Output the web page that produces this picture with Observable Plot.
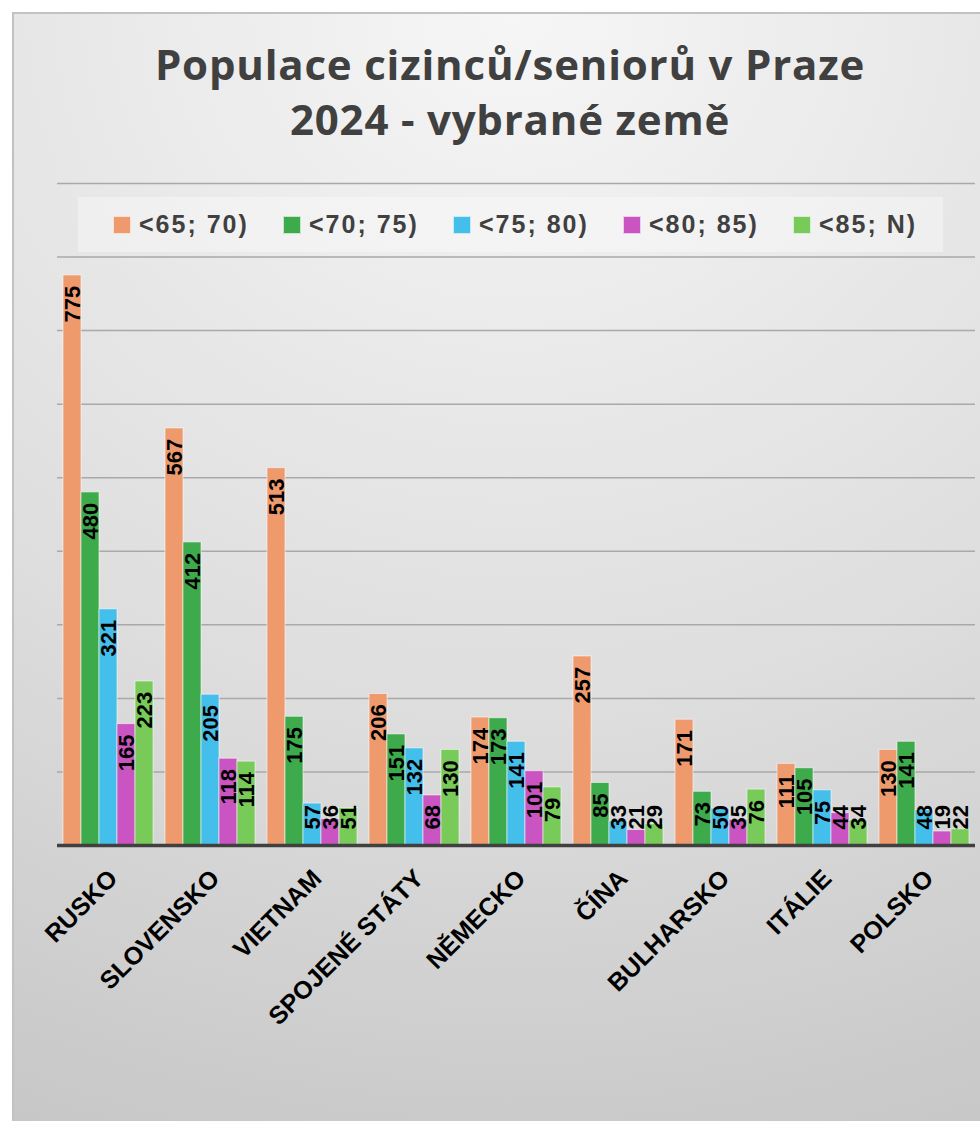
<!DOCTYPE html>
<html>
<head>
<meta charset="utf-8">
<script src="https://cdn.jsdelivr.net/npm/d3@7"></script>
<script src="https://cdn.jsdelivr.net/npm/@observablehq/plot@0.6"></script>
<style>
  html, body { margin: 0; padding: 0; background: #ffffff; }
  body { width: 980px; height: 1121px; position: relative; overflow: hidden; }
  #card {
    position: absolute; left: 12px; top: 12px; width: 1000px; height: 1140px;
    border-left: 2px solid #c2c2c2; border-top: 2px solid #c2c2c2;
    background: radial-gradient(140% 110% at 50% 0%, #f6f6f6 0%, #dedede 55%, #c4c4c4 100%);
  }
  #chart { position: absolute; left: 0; top: 0; }
  #title {
    position: absolute; left: 60px; width: 900px; top: 36px;
    text-align: center; font-family: "Open Sans", "Liberation Sans", sans-serif;
    font-weight: bold; font-size: 42px; line-height: 55px; color: #404040; letter-spacing: 0.8px;
  }
  #legend {
    position: absolute; left: 78px; top: 197px; width: 865px; height: 55px;
    background: rgba(255,255,255,0.35);
  }
  .item { position: absolute; top: 0; height: 55px; display: flex; align-items: center;
    font-family: "Liberation Sans", Arial, sans-serif; font-weight: bold; font-size: 25px;
    color: #404040; letter-spacing: 2px; white-space: nowrap; }
  .sw { width: 18px; height: 18px; margin-right: 8px; box-sizing: border-box; border: 1px solid rgba(255,255,255,0.7); }
</style>
</head>
<body>
<div id="card"></div>
<div id="chart"></div>
<div id="title">Populace cizinců/seniorů v Praze<br>2024 - vybrané země</div>
<div id="legend"></div>
<script>
const countries = ["RUSKO", "SLOVENSKO", "VIETNAM", "SPOJENÉ STÁTY", "NĚMECKO", "ČÍNA", "BULHARSKO", "ITÁLIE", "POLSKO"];
const groups = ["<65; 70)", "<70; 75)", "<75; 80)", "<80; 85)", "<85; N)"];
const v65 = [775, 567, 513, 206, 174, 257, 171, 111, 130];
const v70 = [480, 412, 175, 151, 173, 85, 73, 105, 141];
const v75 = [321, 205, 57, 132, 141, 33, 50, 75, 48];
const v80 = [165, 118, 36, 68, 101, 21, 35, 44, 19];
const v85 = [223, 114, 51, 130, 79, 29, 76, 34, 22];
const colors = ["#EE9A6D", "#3DAA4B", "#44BEEA", "#C954C2", "#78CB58"];
const gridTicks = [100, 200, 300, 400, 500, 600, 700, 800, 900];

const series = [v65, v70, v75, v80, v85];
const data = [];
countries.forEach((c, i) => {
  groups.forEach((g, j) => data.push({country: c, group: g, value: series[j][i]}));
});

// label top position (in data units): near the bar's top, but kept clear of the baseline for short bars
const labelTop = d => Math.max(d.value - 14, String(d.value).length >= 3 ? 70 : 55);

const chart = Plot.plot({
  width: 980,
  height: 1121,
  marginTop: 183,
  marginBottom: 276,
  marginLeft: 57,
  marginRight: 5,
  style: {background: "transparent", fontFamily: "'Liberation Sans', Arial, sans-serif", color: "#000"},
  fx: {domain: countries, paddingInner: 0.118, paddingOuter: 0.059, label: null, axis: null},
  x: {domain: groups, padding: 0, axis: null},
  y: {domain: [0, 900], axis: null},
  color: {domain: groups, range: colors},
  marks: [
    Plot.ruleY(gridTicks, {stroke: "#a9a9a9", strokeWidth: 1.5, insetLeft: -6, insetRight: -6}),
    Plot.barY(data, {fx: "country", x: "group", y: "value", fill: "group", stroke: "#ffffff", strokeOpacity: 0.55, strokeWidth: 1}),
    Plot.ruleY([0], {stroke: "#404040", strokeWidth: 3.5, insetLeft: -6, insetRight: -6}),
    Plot.text(data, {fx: "country", x: "group", y: labelTop, text: d => String(d.value),
      rotate: -90, textAnchor: "end", lineAnchor: "middle", fontSize: 22, fontWeight: "bold", fill: "#000"}),
    Plot.text(countries, {fx: d => d, text: d => d, frameAnchor: "bottom", rotate: -45,
      textAnchor: "end", lineAnchor: "top", dx: -2, dy: 22, fontSize: 25, fontWeight: "bold", fill: "#000"})
  ]
});
document.getElementById("chart").append(chart);

const legend = document.getElementById("legend");
groups.forEach((g, i) => {
  const it = document.createElement("div");
  it.className = "item";
  it.style.left = (35 + i * 170) + "px";
  const sw = document.createElement("span");
  sw.className = "sw";
  sw.style.background = colors[i];
  const tx = document.createElement("span");
  tx.textContent = g;
  it.append(sw, tx);
  legend.append(it);
});
</script>
</body>
</html>
